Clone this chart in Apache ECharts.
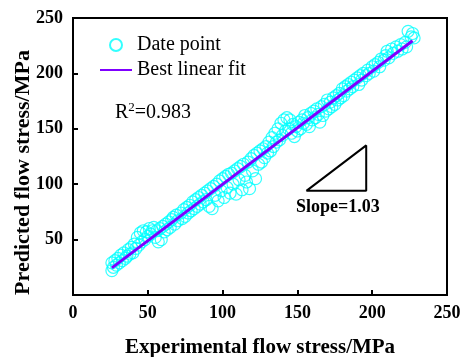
<!DOCTYPE html>
<html>
<head>
<meta charset="utf-8">
<script src="https://cdn.jsdelivr.net/npm/echarts@6/dist/echarts.min.js"></script>
<style>html,body{margin:0;padding:0;background:#fff;}#c{width:461px;height:357px;}</style>
</head>
<body>
<div id="c"></div>
<script>
var xTicks = [0, 50, 100, 150, 200, 250];
var yTicks = [0, 50, 100, 150, 200, 250];
var pointX = [26,26,27,28,29,30,31,32,33,34,35,36,37,38,39,40,41,42,43,44,45,46,47,48,49,50,51,52,53,54,55,56,57,58,59,60,61,62,63,64,65,66,67,68,69,70,72,73,74,75,76,77,78,79,80,81,82,83,84,85,86,87,88,89,90,91,92,93,94,95,96,97,98,99,100,101,102,103,104,105,106,107,108,109,110,111,112,113,114,115,116,117,118,119,120,121,122,123,124,125,126,127,128,129,130,131,132,133,134,135,136,137,138,139,140,141,142,143,144,145,146,147,148,149,150,151,152,153,154,155,156,157,158,159,160,161,162,163,164,165,166,167,168,169,170,171,172,173,174,175,176,177,178,179,180,181,182,183,184,185,186,187,188,190,191,192,193,194,196,197,198,200,201,202,204,205,206,208,209,210,211,213,214,216,217,219,220,222,223,224,226,227,228];
var pointY = [22,29,25,31,27,33,29,36,31,38,33,35,41,37,43,38,46,42,52,45,56,48,58,50,57,53,60,55,58,61,52,58,48,60,50,62,57,64,59,66,61,68,70,64,72,67,74,69,77,71,79,74,81,76,84,78,86,80,88,82,90,84,92,86,94,80,96,78,98,90,100,85,103,94,105,88,107,97,109,92,110,100,112,91,114,104,116,95,118,108,102,120,96,123,112,126,105,128,118,130,120,132,124,134,128,138,130,142,134,146,138,150,140,155,144,158,148,160,150,158,146,154,143,152,148,156,150,158,155,162,154,160,152,164,158,166,160,168,163,156,170,162,172,166,176,168,174,170,178,172,180,176,182,178,186,180,188,184,190,186,192,188,194,196,190,198,194,200,198,203,200,206,202,208,210,206,213,212,216,220,214,222,218,224,220,226,222,228,224,238,233,236,232];
var fitX = [26, 227];
var fitY = [24.5, 229.5];
var triX = [156, 196, 196, 156];
var triY = [94, 94, 135, 94];

function zip(a, b) { return a.map(function (v, i) { return [v, b[i]]; }); }

var FONT = 'Liberation Serif';
var chart = echarts.init(document.getElementById('c'));
chart.setOption({
  animation: false,
  backgroundColor: '#fff',
  grid: { left: 73, right: 14, top: 18, bottom: 62, show: true, borderColor: '#000', borderWidth: 2,
    containLabel: false, outerBoundsMode: 'none' },
  legend: {
    data: ['Date point', { name: 'Best linear fit', itemStyle: { opacity: 0 } }],
    orient: 'vertical', left: 99, top: 35, padding: 0,
    itemWidth: 32, itemHeight: 12, itemGap: 5,
    textStyle: { fontFamily: FONT, fontSize: 20, color: '#000', lineHeight: 20 }
  },
  xAxis: {
    type: 'value', min: 0, max: 250, interval: 50,
    name: 'Experimental flow stress/MPa', nameLocation: 'middle', nameGap: 42, nameMoveOverlap: false,
    nameTextStyle: { fontFamily: FONT, fontSize: 21, fontWeight: 'bold', color: '#000' },
    axisLine: { show: true, lineStyle: { color: '#000', width: 2 } },
    axisTick: { show: true, inside: true, length: 5, lineStyle: { color: '#000', width: 2 } },
    axisLabel: { fontFamily: FONT, fontSize: 18, fontWeight: 'bold', color: '#000', margin: 9,
      formatter: function (v) { return xTicks.indexOf(v) >= 0 ? String(v) : ''; } },
    splitLine: { show: false }
  },
  yAxis: {
    type: 'value', min: 0, max: 250, interval: 50,
    name: 'Predicted flow stress/MPa', nameLocation: 'middle', nameGap: 39, nameRotate: 90, nameMoveOverlap: false,
    nameTextStyle: { fontFamily: FONT, fontSize: 22, fontWeight: 'bold', color: '#000', padding: [0, 32, 0, 0] },
    axisLine: { show: true, lineStyle: { color: '#000', width: 2 } },
    axisTick: { show: true, inside: true, length: 5, lineStyle: { color: '#000', width: 2 } },
    axisLabel: { fontFamily: FONT, fontSize: 18, fontWeight: 'bold', color: '#000', margin: 10, showMinLabel: false,
      formatter: function (v) { return (yTicks.indexOf(v) > 0) ? String(v) : ''; } },
    splitLine: { show: false }
  },
  series: [
    {
      name: 'Date point', type: 'scatter', symbol: 'circle', symbolSize: 12,
      itemStyle: { color: 'rgba(255,255,255,0)', borderColor: '#00FFFF', borderWidth: 1.2 },
      data: zip(pointX, pointY), z: 2
    },
    {
      name: 'Best linear fit', type: 'line', symbol: 'none', showSymbol: false,
      lineStyle: { color: '#7F00FF', width: 3 }, itemStyle: { color: '#7F00FF' },
      data: zip(fitX, fitY), z: 3
    },
    {
      name: 'triangle', type: 'line', symbol: 'none', silent: true,
      lineStyle: { color: '#000', width: 2 }, itemStyle: { color: '#000' },
      data: zip(triX, triY), z: 3
    }
  ],
  graphic: [
    {
      type: 'text', left: 115, top: 101,
      style: {
        text: '{a|R}{s|2}{a|=0.983}',
        rich: {
          a: { fontFamily: FONT, fontSize: 20, fill: '#000', lineHeight: 22, verticalAlign: 'bottom' },
          s: { fontFamily: FONT, fontSize: 13, fill: '#000', lineHeight: 22, verticalAlign: 'top' }
        }
      }
    },
    {
      type: 'text', left: 296, top: 198,
      style: { text: 'Slope=1.03', fontFamily: FONT, fontSize: 18, fontWeight: 'bold', fill: '#000' }
    }
  ]
});
</script>
</body>
</html>
